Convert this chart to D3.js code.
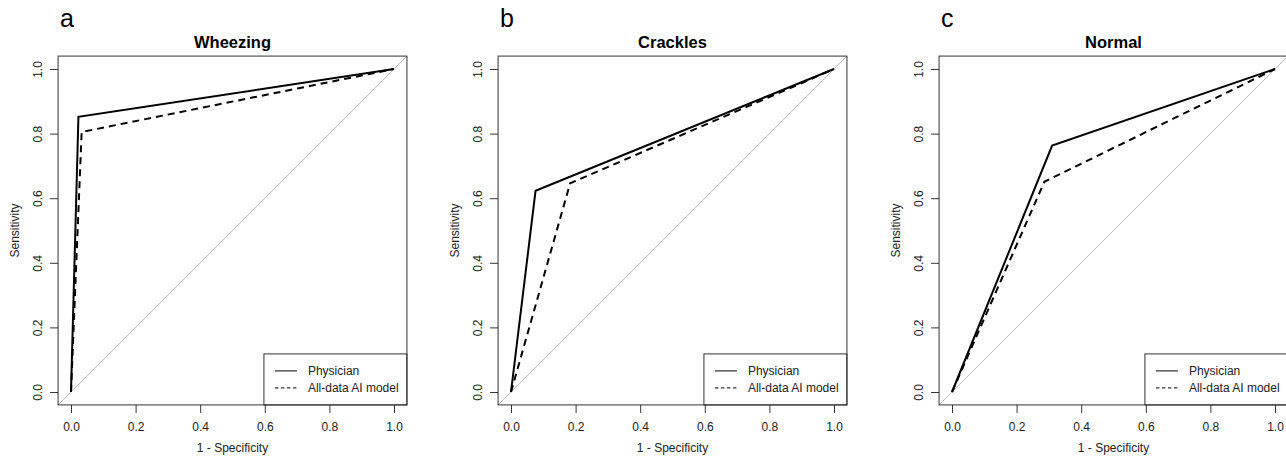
<!DOCTYPE html>
<html>
<head>
<meta charset="utf-8">
<script src="https://cdn.jsdelivr.net/npm/d3@7"></script>
<style>
  body { margin: 0; background: #fff; }
  svg { display: block; font-family: "Liberation Sans", Arial, sans-serif; }
</style>
</head>
<body>
<svg id="chart" width="1286" height="458"></svg>
<script>
// panel data
const panelLetters = ["a", "b", "c"];
const panelTitles = ["Wheezing", "Crackles", "Normal"];
const physicianFpr = [0.023, 0.076, 0.310];
const physicianTpr = [0.852, 0.623, 0.763];
const aiFpr = [0.033, 0.183, 0.286];
const aiTpr = [0.805, 0.646, 0.651];
const tickValues = [0, 0.2, 0.4, 0.6, 0.8, 1.0];
const legendLabels = ["Physician", "All-data AI model"];

const svg = d3.select("#chart");
svg.append("rect").attr("width", 1286).attr("height", 458).attr("fill", "#fff");

const panelOffsets = [0, 440, 881];

panelLetters.forEach((letter, i) => {
    const off = panelOffsets[i];
    const x = d3.scaleLinear().domain([0, 1]).range([71 + off, 394 + off]);
    const y = d3.scaleLinear().domain([0, 1]).range([392, 69]);
    const left = x(-0.04), right = x(1.04), top = y(1.04), bottom = y(-0.04);

    const g = svg.append("g");

    // panel letter + title
    g.append("text")
        .attr("x", left + 2).attr("y", 27)
        .attr("font-size", 25)
        .text(letter);
    g.append("text")
        .attr("x", (left + right) / 2).attr("y", 48)
        .attr("text-anchor", "middle")
        .attr("font-size", 16.5).attr("font-weight", "bold")
        .text(panelTitles[i]);

    // reference diagonal across the whole box
    g.append("line")
        .attr("x1", left).attr("y1", bottom)
        .attr("x2", right).attr("y2", top)
        .attr("stroke", "#bdbdbd").attr("stroke-width", 1);

    const line = d3.line().x(d => x(d[0])).y(d => y(d[1]));
    const phys = [[0, 0], [physicianFpr[i], physicianTpr[i]], [1, 1]];
    const ai = [[0, 0], [aiFpr[i], aiTpr[i]], [1, 1]];

    g.append("path").datum(ai)
        .attr("d", line).attr("fill", "none")
        .attr("stroke", "#000").attr("stroke-width", 2)
        .attr("stroke-dasharray", "7,5");
    g.append("path").datum(phys)
        .attr("d", line).attr("fill", "none")
        .attr("stroke", "#000").attr("stroke-width", 2);

    // axes
    const xAxis = g.append("g")
        .attr("transform", `translate(0,${bottom})`)
        .call(d3.axisBottom(x).tickValues(tickValues).tickSize(8).tickPadding(10).tickFormat(d3.format(".1f")));
    const yAxis = g.append("g")
        .attr("transform", `translate(${left},0)`)
        .call(d3.axisLeft(y).tickValues(tickValues).tickSize(8).tickFormat(d3.format(".1f")));
    yAxis.selectAll(".tick text")
        .attr("x", null).attr("dy", null)
        .attr("text-anchor", "middle")
        .attr("transform", "translate(-16,0) rotate(-90)");
    [xAxis, yAxis].forEach(a => {
        a.select(".domain").remove();
        a.selectAll(".tick line").attr("stroke", "#333");
        a.selectAll(".tick text")
            .attr("font-size", 12).attr("fill", "#222")
            .attr("font-family", "Liberation Sans, Arial, sans-serif");
    });

    // axis titles
    g.append("text")
        .attr("x", (left + right) / 2).attr("y", 452)
        .attr("text-anchor", "middle").attr("font-size", 12).attr("fill", "#222")
        .text("1 - Specificity");
    g.append("text")
        .attr("transform", `translate(${left - 39.5},${(top + bottom) / 2}) rotate(-90)`)
        .attr("text-anchor", "middle").attr("font-size", 12).attr("fill", "#222")
        .text("Sensitivity");

    // legend (bottom right)
    const lg = g.append("g").attr("transform", `translate(${right - 143},${bottom - 51})`);
    lg.append("rect")
        .attr("width", 143).attr("height", 51)
        .attr("fill", "#fff").attr("stroke", "#333");
    legendLabels.forEach((lab, j) => {
        const ly = 17 + j * 17;
        lg.append("line")
            .attr("x1", 11).attr("x2", 33).attr("y1", ly).attr("y2", ly)
            .attr("stroke", "#000").attr("stroke-width", 1)
            .attr("stroke-dasharray", j === 1 ? "3.5,2.5" : null);
        lg.append("text")
            .attr("x", 44).attr("y", ly).attr("dy", "0.35em")
            .attr("font-size", 12).attr("fill", "#222")
            .text(lab);
    });

    // plot box
    g.append("rect")
        .attr("x", left).attr("y", top)
        .attr("width", right - left).attr("height", bottom - top)
        .attr("fill", "none").attr("stroke", "#333").attr("stroke-width", 1);
});
</script>
</body>
</html>
